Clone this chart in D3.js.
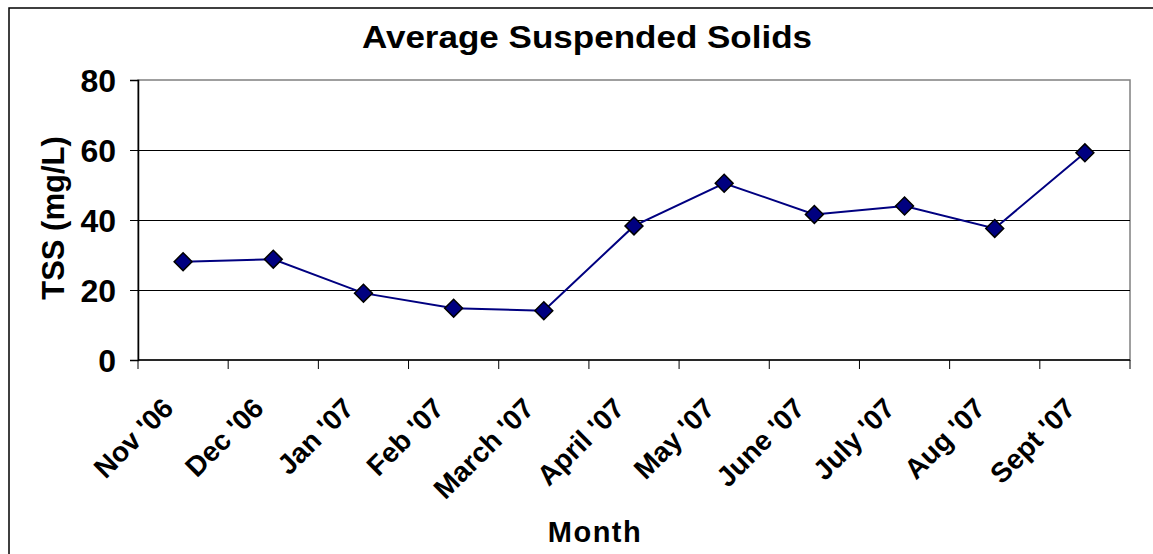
<!DOCTYPE html>
<html>
<head>
<meta charset="utf-8">
<script src="https://cdn.jsdelivr.net/npm/d3@7"></script>
<style>
  body { margin: 0; background: #fff; }
  text { font-family: "Liberation Sans", Arial, sans-serif; font-weight: bold; fill: #000; }
</style>
</head>
<body>
<div id="js_chart"></div>
<script>
// Data
const months = ["Nov '06", "Dec '06", "Jan '07", "Feb '07", "March '07", "April '07",
                "May '07", "June '07", "July '07", "Aug '07", "Sept '07"];
const tss = [28.1, 28.8, 19.1, 14.8, 14.1, 38.3, 50.5, 41.6, 44.0, 37.6, 59.2];
const yTicks = [0, 20, 40, 60, 80];

const width = 1153, height = 554;
const margin = {top: 80, right: 23, bottom: 194, left: 138};
const plotW = width - margin.left - margin.right,
      plotH = height - margin.top - margin.bottom;

const svg = d3.select("#js_chart").append("svg")
    .attr("width", width)
    .attr("height", height);

// outer chart border (runs off the picture on right/bottom)
svg.append("rect")
    .attr("x", 9).attr("y", 8)
    .attr("width", 1300).attr("height", 700)
    .attr("fill", "none").attr("stroke", "#000").attr("stroke-width", 1.5);

let x = d3.scaleBand().domain(months).range([0, plotW]);
let y = d3.scaleLinear().domain([0, 80]).range([plotH, 0]);

const g = svg.append("g")
    .attr("transform", "translate(" + margin.left + "," + margin.top + ")");

// plot area border (grey)
g.append("rect")
    .attr("width", plotW).attr("height", plotH)
    .attr("fill", "none").attr("stroke", "#808080").attr("stroke-width", 1.5);

// gridlines
g.selectAll("line.grid").data(yTicks.filter(d => d > 0 && d < 80)).enter()
    .append("line").attr("class", "grid")
    .attr("x1", 0).attr("x2", plotW)
    .attr("y1", d => y(d) + 0.5).attr("y2", d => y(d) + 0.5)
    .attr("stroke", "#000").attr("stroke-width", 1)
    .attr("shape-rendering", "crispEdges");

// y axis
let yAxis = g.append("g")
    .call(d3.axisLeft(y).tickValues(yTicks).tickSize(8).tickPadding(14));
yAxis.select(".domain").attr("stroke", "#000").attr("stroke-width", 1.5);
yAxis.selectAll(".tick line").attr("stroke", "#000");
yAxis.selectAll("text").style("font-size", "32px").attr("dy", "0.36em");

// x axis: ticks between categories
let xAxis = g.append("g").attr("transform", "translate(0," + plotH + ")");
xAxis.append("line").attr("x1", 0).attr("x2", plotW)
    .attr("stroke", "#000").attr("stroke-width", 1.5);
xAxis.selectAll("line.tk").data(d3.range(months.length + 1)).enter()
    .append("line").attr("class", "tk")
    .attr("x1", i => i * x.step()).attr("x2", i => i * x.step())
    .attr("y1", 0).attr("y2", 9)
    .attr("stroke", "#000");
xAxis.selectAll("text").data(months).enter().append("text")
    .attr("text-anchor", "end")
    .attr("transform", d => "translate(" + (x(d) + x.bandwidth() / 2 - 8) + ",50) rotate(-45)")
    .style("font-size", "28px")
    .text(d => d);

// line
const line = d3.line()
    .x((d, i) => x(months[i]) + x.bandwidth() / 2)
    .y(d => y(d));
g.append("path").datum(tss)
    .attr("d", line)
    .attr("fill", "none").attr("stroke", "#000080").attr("stroke-width", 2);

// diamond markers
g.selectAll("path.pt").data(tss).enter().append("path").attr("class", "pt")
    .attr("d", d3.symbol().type(d3.symbolSquare).size(160))
    .attr("transform", (d, i) => "translate(" + (x(months[i]) + x.bandwidth() / 2) + "," + y(d) + ") rotate(45)")
    .attr("fill", "#000080").attr("stroke", "#000").attr("stroke-width", 1.5);

// title
svg.append("text")
    .attr("transform", "translate(587,48) scale(1.13,1)")
    .attr("text-anchor", "middle")
    .style("font-size", "31px")
    .text("Average Suspended Solids");

// axis titles
svg.append("text")
    .attr("transform", "translate(64,218) rotate(-90)")
    .attr("text-anchor", "middle")
    .style("font-size", "31px")
    .text("TSS (mg/L)");

svg.append("text")
    .attr("x", 595).attr("y", 542)
    .attr("text-anchor", "middle")
    .style("font-size", "29px")
    .style("letter-spacing", "1.5px")
    .text("Month");
</script>
</body>
</html>
